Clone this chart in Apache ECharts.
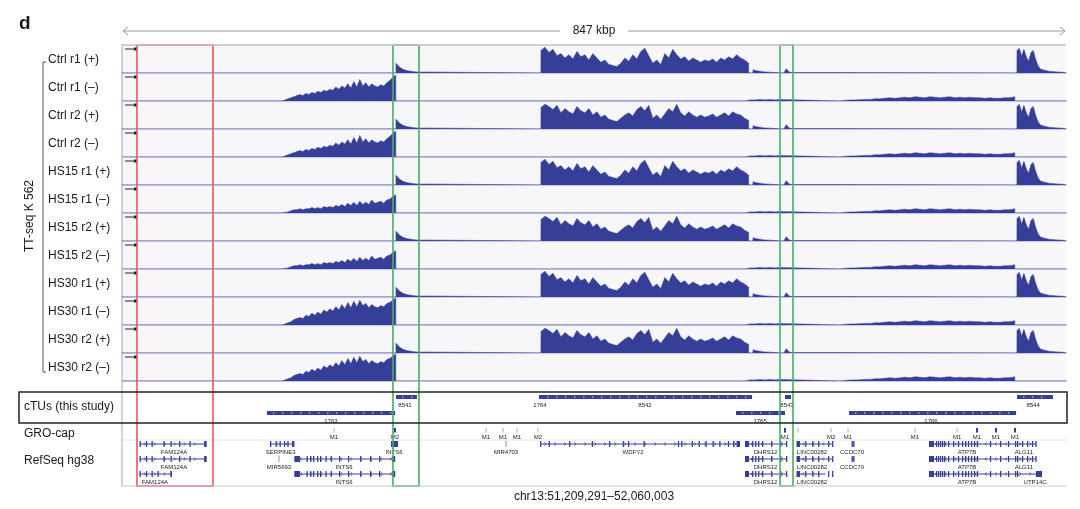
<!DOCTYPE html>
<html>
<head>
<meta charset="utf-8">
<title>TT-seq K562 chr13</title>
<script src="https://cdn.jsdelivr.net/npm/echarts@6/dist/echarts.min.js"></script>
<style>
  html, body { margin: 0; padding: 0; background: #fff; }
  #chart { width: 1080px; height: 509px; }
</style>
</head>
<body>
<div id="chart"></div>
<script>
// positions are kb from chr13:51,209,291
var REGION_KB = 851;
var BLUE = '#363f98';
var FONT = '"Liberation Sans", Arial, sans-serif';

var TRACK_LABELS = ['Ctrl r1 (+)', 'Ctrl r1 (–)', 'Ctrl r2 (+)', 'Ctrl r2 (–)',
  'HS15 r1 (+)', 'HS15 r1 (–)', 'HS15 r2 (+)', 'HS15 r2 (–)',
  'HS30 r1 (+)', 'HS30 r1 (–)', 'HS30 r2 (+)', 'HS30 r2 (–)'];
var TRACK_PROFILE = ['plusR1', 'minusCtrl', 'plusR2', 'minusCtrl',
  'plusR1', 'minusHS15', 'plusR2', 'minusHS15',
  'plusR1', 'minusHS30', 'plusR2', 'minusHS30'];

// coverage (track height ~26)
var PLUS_PEAK_AT = 247.0, PLUS_PEAK = [9, 10, 5, 4, 3, 3, 2, 2, 1.5, 1, 1, 0.5];
var BLOCK_AT = 377.7;
var PLUS_BLOCK_R1 = [21, 24, 19, 22, 16, 18, 14, 17, 13, 20,
  15, 17, 12, 18, 14, 10, 12, 8, 7, 6,
  9, 14, 11, 17, 13, 20, 23, 16, 9, 12,
  8, 18, 14, 22, 17, 13, 15, 11, 14, 12,
  10, 12, 11, 13, 10, 14, 12, 15, 13, 17,
  14, 12, 9];
var PLUS_BLOCK_R2 = [20, 23, 21, 18, 22, 15, 19, 16, 14, 21,
  17, 15, 19, 13, 16, 11, 13, 9, 8, 7,
  10, 13, 15, 12, 18, 21, 17, 22, 10, 13,
  9, 14, 19, 16, 23, 15, 12, 16, 13, 11,
  13, 11, 12, 14, 11, 13, 15, 12, 16, 14,
  13, 10, 8];
var TAIL_AT = 568.8, PLUS_TAIL = [3, 2, 1.5, 1];
var SPIKE_AT = 596.8, PLUS_SPIKE = [0.5, 4, 3, 0.5];
var RIGHT_AT = 806.8, PLUS_RIGHT = [21, 23, 16, 22, 15, 11, 19, 21, 13, 7, 4, 3, 2.5, 2, 1.5, 1.5, 1.2, 1, 1, 0.8, 0.6];

var RAMP_AT = 144.2;
var MINUS_RAMP_CTRL = [0.5, 1, 2, 3, 4, 5, 6, 5, 7, 6,
  8, 7, 9, 8, 10, 9, 11, 10, 13, 11,
  14, 12, 16, 12, 18, 13, 20, 14, 17, 13,
  16, 14, 13, 15, 14, 17, 19, 22, 24];
var MINUS_RAMP_HS15 = [0.3, 0.5, 1, 2, 3, 3, 4, 3, 4, 4,
  5, 4, 5, 4, 6, 5, 6, 5, 7, 6,
  8, 6, 9, 7, 10, 7, 11, 8, 10, 8,
  12, 9, 10, 11, 9, 12, 13, 15, 17];
var MINUS_RAMP_HS30 = [0.5, 1, 2, 3, 5, 6, 7, 6, 9, 8,
  11, 9, 12, 10, 14, 12, 15, 13, 17, 14,
  19, 15, 21, 16, 22, 17, 23, 18, 20, 16,
  19, 17, 16, 18, 17, 20, 21, 23, 25];
var LOW_A_AT = 561.6, MINUS_LOW_A = [0.5, 1, 1, 1.5, 1, 1.5, 1, 1.5];
var LOW_B_AT = 647.3;
var MINUS_LOW_B = [0.5, 0.5, 1, 1, 1.2, 1.5, 1.5, 2, 2, 2.5,
  3, 2.5, 3, 3.5, 3, 4, 3.5, 3, 4, 3.5,
  3, 3.5, 4, 3, 3.5, 3, 3.5, 3, 3, 2.5,
  3, 2.5, 2.5, 3, 3, 4];

// cTUs
var CTU_NAMES = ['8541', '1764', '8542', '8543', '8544', '1763', '1765', '1766'];
var CTU_START = [247.0, 375.9, 377.7, 597.7, 806.8, 130.7, 553.5, 655.4];
var CTU_END = [265.9, 382.2, 568.0, 603.1, 839.3, 246.1, 597.7, 806.0];
var CTU_ROW = [0, 0, 0, 0, 0, 1, 1, 1];
var CTU_LABEL_AT = [255.1, 376.8, 471.5, 599.5, 821.3, 188.4, 575.2, 729.3];

// GRO-cap TSS calls
var GRO_POS = [191.1, 246.1, 328.1, 343.5, 356.1, 375.0, 597.7, 609.4, 639.2, 654.5, 714.9, 752.8, 770.8, 787.9, 805.0];
var GRO_LABEL = ['M1', 'M2', 'M1', 'M1', 'M1', 'M2', 'M1', '', 'M2', 'M1', 'M1', 'M1', 'M1', 'M1', 'M1'];
var GRO_STRONG = [0, 1, 0, 0, 0, 0, 1, 0, 0, 0, 0, 0, 1, 1, 1];

// RefSeq exons
var E_FAM = [[15.8, 16.6], [21.6, 22.2], [26.6, 27.2], [37.4, 38], [43.7, 44.3], [51.4, 52], [60.8, 61.4], [74.0, 76.3]];
var E_FAM3 = [[15.8, 16.6], [21.6, 22.2], [26.6, 27.2], [32, 32.6], [43.5, 45.1]];
var E_SERP = [[133.4, 134.2], [138.4, 139.0], [142.0, 142.6], [146.0, 146.6], [149.1, 149.7], [153.3, 155.4]];
var E_INTS6S = [[242.5, 248.8]];
var E_MIR4703 = [[346.2, 346.2]];
var E_MIR5693 = [[141.5, 141.5]];
var E_WDFY2 = [[376.8, 377.6], [384.6, 385.2], [403.0, 403.6], [423.5, 424.1], [439.1, 439.7], [451.4, 452.4], [456.1, 456.7], [470.1, 470.7], [501.1, 501.7], [504.1, 504.7], [513.6, 514.2], [519.8, 520.4], [526.0, 526.6], [532.3, 532.9], [538.4, 539.0], [546.2, 546.8], [550.8, 551.4], [554.0, 557.1]];
var E_DHRS12 = [[561.6, 565.2], [568.0, 568.6], [570.7, 571.3], [573.4, 574.0], [577.0, 577.6], [585.1, 585.7], [593.2, 593.8], [598.6, 599.5]];
var E_LINC = [[608.1, 611.3], [615.8, 616.4], [622.1, 622.7], [627.5, 628.1], [636.5, 637.1], [640.1, 640.7]];
var E_CCDC70 = [[657.7, 658.5], [659.2, 659.9]];
var E_ATP7B = [[727.5, 732.0], [733.8, 734.4], [735.6, 736.2], [737.4, 738.0], [739.2, 739.8], [741.0, 741.6], [744.6, 745.2], [749.1, 749.7], [753.6, 754.2], [757.2, 757.8], [759.9, 760.5], [762.6, 763.2], [765.3, 765.9], [768.0, 768.6], [770.7, 771.3], [782.4, 783.0], [791.5, 792.1], [798.7, 799.3]];
var E_ALG11 = [[805.0, 805.6], [806.8, 807.4], [811.3, 811.9], [815.8, 816.4], [820.3, 820.9], [823.4, 824.0]];
var E_INTS6 = [[155.4, 160.5], [166.3, 166.9], [169.5, 170.1], [172.2, 172.8], [175.8, 176.4], [178.5, 179.1], [183.4, 184.0], [188.1, 188.7], [195.6, 196.2], [203.7, 204.3], [214.6, 215.2], [223.6, 224.2], [231.7, 232.3], [243.4, 246.3]];
var E_UTP14C = [[805.0, 805.6], [806.8, 807.4], [823.9, 829.4]];

var GENE_NAMES = ['FAM124A', 'SERPINE3', 'INTS6', 'MIR4703', 'WDFY2', 'DHRS12', 'LINC00282', 'CCDC70', 'ATP7B', 'ALG11',
  'FAM124A', 'MIR5693', 'INTS6', 'DHRS12', 'LINC00282', 'CCDC70', 'ATP7B', 'ALG11',
  'FAM124A', 'INTS6', 'DHRS12', 'LINC00282', 'ATP7B', 'UTP14C'];
var GENE_ROW = [0, 0, 0, 0, 0, 0, 0, 0, 0, 0,
  1, 1, 1, 1, 1, 1, 1, 1,
  2, 2, 2, 2, 2, 2];
var GENE_START = [15.8, 133.4, 242.5, 346.2, 376.8, 561.6, 608.1, 657.7, 727.5, 805.0,
  15.8, 141.5, 155.4, 561.6, 608.1, 657.7, 727.5, 805.0,
  15.8, 155.4, 561.6, 608.1, 727.5, 805.0];
var GENE_END = [76.3, 155.4, 248.8, 346.2, 557.1, 599.5, 640.7, 659.9, 805.0, 824.0,
  76.3, 141.5, 246.3, 599.5, 640.7, 659.9, 805.0, 824.0,
  45.1, 246.3, 599.5, 634.0, 805.0, 829.4];
var GENE_STRAND = [1, -1, -1, 1, 1, -1, -1, 1, -1, 1,
  1, 1, -1, -1, -1, 1, -1, 1,
  1, -1, -1, -1, -1, 1];
var GENE_LABEL_AT = [46.9, 143.0, 245.2, 346.2, 460.7, 580.2, 622.0, 658.1, 761.8, 813.0,
  46.9, 141.5, 200.1, 580.2, 622.0, 658.1, 761.8, 813.0,
  29.7, 200.1, 580.2, 622.0, 761.8, 823.1];
var GENE_EXONS = [E_FAM, E_SERP, E_INTS6S, E_MIR4703, E_WDFY2, E_DHRS12, E_LINC, E_CCDC70, E_ATP7B, E_ALG11,
  E_FAM, E_MIR5693, E_INTS6, E_DHRS12, E_LINC, E_CCDC70, E_ATP7B, E_ALG11,
  E_FAM3, E_INTS6, E_DHRS12, E_LINC, E_ATP7B, E_UTP14C];

var HIGHLIGHTS = [[13.5, 82.0], [244.3, 267.7], [593.2, 604.9]];
var HIGHLIGHT_COLORS = ['#e8595a', '#4aac62', '#4aac62'];

// ---- build ----
function region(start, step, values) {
  var pts = [[start - 0.05, 0]];
  values.forEach(function (v, i) { pts.push([start + i * step, v]); });
  pts.push([start + (values.length - 1) * step + 0.05, 0]);
  return pts;
}
function plusParts(block) {
  return [region(PLUS_PEAK_AT, 1.8, PLUS_PEAK), region(BLOCK_AT, 3.6, block),
    region(TAIL_AT, 3.6, PLUS_TAIL), region(SPIKE_AT, 1.8, PLUS_SPIKE), region(RIGHT_AT, 2.1, PLUS_RIGHT)];
}
function minusParts(ramp) {
  return [region(RAMP_AT, 2.7, ramp), region(LOW_A_AT, 4.5, MINUS_LOW_A), region(LOW_B_AT, 4.5, MINUS_LOW_B)];
}
var PROFILES = {
  plusR1: function () { return plusParts(PLUS_BLOCK_R1); },
  plusR2: function () { return plusParts(PLUS_BLOCK_R2); },
  minusCtrl: function () { return minusParts(MINUS_RAMP_CTRL); },
  minusHS15: function () { return minusParts(MINUS_RAMP_HS15); },
  minusHS30: function () { return minusParts(MINUS_RAMP_HS30); }
};
function trackData(name) {
  var pts = [[0, 0]];
  PROFILES[name]().forEach(function (p) { pts = pts.concat(p); });
  pts.push([REGION_KB, 0]);
  pts.sort(function (a, b) { return a[0] - b[0]; });
  return pts;
}

var TOP = 45, TRACK_H = 28, LEFT = 122, RIGHT = 14;
var grids = [], xAxes = [], yAxes = [], series = [], graphics = [];

TRACK_LABELS.forEach(function (lab, i) {
  grids.push({ left: LEFT, right: RIGHT, top: TOP + TRACK_H * i, height: TRACK_H,
    show: true, backgroundColor: '#f7f7f9', borderWidth: 0 });
  xAxes.push({ type: 'value', gridIndex: i, min: 0, max: REGION_KB,
    axisLine: { show: true, lineStyle: { color: '#c6c8e4', width: 2 } },
    axisTick: { show: false }, axisLabel: { show: false }, splitLine: { show: false } });
  yAxes.push({ type: 'value', gridIndex: i, min: 0, max: 26, show: false });
  series.push({ type: 'line', xAxisIndex: i, yAxisIndex: i, data: trackData(TRACK_PROFILE[i]),
    symbol: 'none', silent: true, lineStyle: { width: 0.5, color: BLUE },
    areaStyle: { color: BLUE, opacity: 1 } });
  var y0 = TOP + TRACK_H * i;
  graphics.push({ type: 'text', x: 48, y: y0 + 15,
    style: { text: lab, font: '12px ' + FONT, fill: '#1a1a1a', align: 'left', verticalAlign: 'middle',
      textAlign: 'left', textVerticalAlign: 'middle' } });
  graphics.push({ type: 'line', shape: { x1: 125, y1: y0 + 4, x2: 137, y2: y0 + 4 },
    style: { stroke: '#222', lineWidth: 1 } });
  graphics.push({ type: 'rect', shape: { x: 134, y: y0 + 2.5, width: 3, height: 3 }, style: { fill: '#222' } });
});

// annotation grid (y in px below 386)
var AG = TRACK_LABELS.length;
grids.push({ left: LEFT, right: RIGHT, top: 386, height: 100 });
xAxes.push({ type: 'value', gridIndex: AG, min: 0, max: REGION_KB, show: false });
yAxes.push({ type: 'value', gridIndex: AG, min: 0, max: 100, inverse: true, show: false });

var CTU_ROW_Y = [11, 27];
series.push({
  type: 'custom', xAxisIndex: AG, yAxisIndex: AG, silent: true, clip: false,
  data: CTU_NAMES.map(function (n, i) { return [CTU_START[i], CTU_END[i], CTU_ROW_Y[CTU_ROW[i]]]; }),
  encode: { x: [0, 1], y: 2 },
  renderItem: function (params, api) {
    var i = params.dataIndex;
    var s = api.coord([api.value(0), api.value(2)]);
    var e = api.coord([api.value(1), api.value(2)]);
    var lx = api.coord([CTU_LABEL_AT[i], api.value(2)])[0];
    var w = Math.max(e[0] - s[0], 2);
    var kids = [{ type: 'rect', shape: { x: s[0], y: s[1] - 2, width: w, height: 4 }, style: { fill: BLUE } }];
    for (var x = s[0] + 6; x < s[0] + w - 4; x += 9) {
      kids.push({ type: 'line', shape: { x1: x, y1: s[1], x2: x + 1.5, y2: s[1] }, style: { stroke: '#fff', lineWidth: 0.8 } });
    }
    kids.push({ type: 'text', style: { text: CTU_NAMES[i], x: lx, y: s[1] + 8.5, align: 'center', verticalAlign: 'middle',
      font: '6px ' + FONT, fill: '#222' } });
    return { type: 'group', children: kids };
  }
});

series.push({
  type: 'custom', xAxisIndex: AG, yAxisIndex: AG, silent: true, clip: false,
  data: GRO_POS.map(function (p) { return [p, 44]; }),
  encode: { x: 0, y: 1 },
  renderItem: function (params, api) {
    var i = params.dataIndex;
    var top = api.coord([api.value(0), 42]);
    var bot = api.coord([api.value(0), 46.5]);
    var strong = GRO_STRONG[i];
    return { type: 'group', children: [
      { type: 'line', shape: { x1: top[0], y1: top[1], x2: bot[0], y2: bot[1] },
        style: { stroke: strong ? BLUE : '#9a9a9a', lineWidth: strong ? 2 : 0.8 } },
      { type: 'text', style: { text: GRO_LABEL[i], x: top[0], y: top[1] + 9.5, align: 'center', verticalAlign: 'middle',
        font: '6px ' + FONT, fill: '#222' } }
    ] };
  }
});

var GENE_ROW_Y = [58, 73, 88];
series.push({
  type: 'custom', xAxisIndex: AG, yAxisIndex: AG, silent: true, clip: false,
  data: GENE_NAMES.map(function (n, i) { return [GENE_START[i], GENE_END[i], GENE_ROW_Y[GENE_ROW[i]]]; }),
  encode: { x: [0, 1], y: 2 },
  renderItem: function (params, api) {
    var i = params.dataIndex;
    var y = api.coord([0, api.value(2)])[1];
    var x0 = api.coord([api.value(0), 0])[0];
    var x1 = api.coord([api.value(1), 0])[0];
    var dir = GENE_STRAND[i];
    var kids = [];
    if (x1 - x0 > 1) {
      kids.push({ type: 'line', shape: { x1: x0, y1: y, x2: x1, y2: y }, style: { stroke: BLUE, lineWidth: 1 } });
      for (var x = x0 + 6; x < x1 - 3; x += 10) {
        kids.push({ type: 'polyline', shape: { points: [[x - 1.6 * dir, y - 1.8], [x, y], [x - 1.6 * dir, y + 1.8]] },
          style: { stroke: BLUE, lineWidth: 0.7, fill: 'none' } });
      }
    }
    GENE_EXONS[i].forEach(function (ex) {
      var a = api.coord([ex[0], 0])[0], b = api.coord([ex[1], 0])[0];
      if (b - a < 0.5) {
        kids.push({ type: 'line', shape: { x1: a, y1: y - 3.5, x2: a, y2: y + 3 }, style: { stroke: '#777', lineWidth: 0.8 } });
      } else {
        kids.push({ type: 'rect', shape: { x: a, y: y - 3, width: Math.max(b - a, 1.3), height: 6 }, style: { fill: BLUE } });
      }
    });
    var lx = api.coord([GENE_LABEL_AT[i], 0])[0];
    kids.push({ type: 'text', style: { text: GENE_NAMES[i], x: lx, y: y + 8, align: 'center', verticalAlign: 'middle',
      font: '6px ' + FONT, fill: '#222' } });
    return { type: 'group', children: kids };
  }
});

// overlay grid for highlight boxes
var OG = AG + 1;
grids.push({ left: LEFT, right: RIGHT, top: TOP, height: 441 });
xAxes.push({ type: 'value', gridIndex: OG, min: 0, max: REGION_KB, show: false });
yAxes.push({ type: 'value', gridIndex: OG, min: 0, max: 1, show: false });
series.push({
  type: 'custom', xAxisIndex: OG, yAxisIndex: OG, silent: true, clip: false, z: 20,
  data: HIGHLIGHTS.map(function (h) { return [h[0], h[1]]; }),
  encode: { x: [0, 1] },
  renderItem: function (params, api) {
    var p0 = api.coord([api.value(0), 1]);
    var p1 = api.coord([api.value(1), 0]);
    return { type: 'rect', shape: { x: p0[0], y: p0[1], width: p1[0] - p0[0], height: p1[1] - p0[1] },
      style: { fill: 'none', stroke: HIGHLIGHT_COLORS[params.dataIndex], lineWidth: 1.6 } };
  }
});

// decorations
function txt(x, y, s, size, opts) {
  opts = opts || {};
  var al = opts.align || 'left';
  return { type: 'text', x: x, y: y, rotation: opts.rotation || 0, z: 30,
    style: { text: s, font: (opts.bold ? 'bold ' : '') + size + 'px ' + FONT, fill: '#1a1a1a',
      align: al, textAlign: al, verticalAlign: 'middle', textVerticalAlign: 'middle' } };
}
graphics.push(txt(19, 24, 'd', 19, { bold: true }));
graphics.push({ type: 'line', shape: { x1: 123, y1: 31, x2: 560, y2: 31 }, style: { stroke: '#9a9a9a', lineWidth: 1 } });
graphics.push({ type: 'line', shape: { x1: 628, y1: 31, x2: 1065, y2: 31 }, style: { stroke: '#9a9a9a', lineWidth: 1 } });
graphics.push({ type: 'polyline', shape: { points: [[128, 27], [123, 31], [128, 35]] }, style: { stroke: '#9a9a9a', lineWidth: 1, fill: 'none' } });
graphics.push({ type: 'polyline', shape: { points: [[1060, 27], [1065, 31], [1060, 35]] }, style: { stroke: '#9a9a9a', lineWidth: 1, fill: 'none' } });
graphics.push(txt(594, 31, '847 kbp', 12, { align: 'center' }));
graphics.push({ type: 'line', shape: { x1: 122, y1: 45, x2: 1066, y2: 45 }, style: { stroke: '#c2c2c2', lineWidth: 1.5 }, z: 25 });
graphics.push({ type: 'line', shape: { x1: 122, y1: 45, x2: 122, y2: 486 }, style: { stroke: '#a8a8a8', lineWidth: 1 }, z: 25 });
graphics.push({ type: 'line', shape: { x1: 122, y1: 486, x2: 1066, y2: 486 }, style: { stroke: '#c8c8c8', lineWidth: 1 }, z: 25 });
graphics.push({ type: 'line', shape: { x1: 122, y1: 440, x2: 1066, y2: 440 }, style: { stroke: '#e6e6e6', lineWidth: 1 } });
graphics.push({ type: 'rect', shape: { x: 19, y: 392, width: 1048, height: 31 }, z: 25,
  style: { fill: 'none', stroke: '#222', lineWidth: 1.5 } });
graphics.push(txt(24, 407, 'cTUs (this study)', 12));
graphics.push(txt(24, 434, 'GRO-cap', 12));
graphics.push(txt(24, 461, 'RefSeq hg38', 12));
graphics.push(txt(30, 216, 'TT-seq K 562', 12, { align: 'center', rotation: Math.PI / 2 }));
graphics.push({ type: 'polyline', shape: { points: [[46, 62], [43, 62], [43, 372], [46, 372]] },
  style: { stroke: '#555', lineWidth: 1, fill: 'none' } });
graphics.push(txt(594, 497, 'chr13:51,209,291–52,060,003', 12, { align: 'center' }));

var chart = echarts.init(document.getElementById('chart'));
chart.setOption({
  animation: false,
  backgroundColor: '#fff',
  grid: grids,
  xAxis: xAxes,
  yAxis: yAxes,
  series: series,
  graphic: { elements: graphics }
});
</script>
</body>
</html>
